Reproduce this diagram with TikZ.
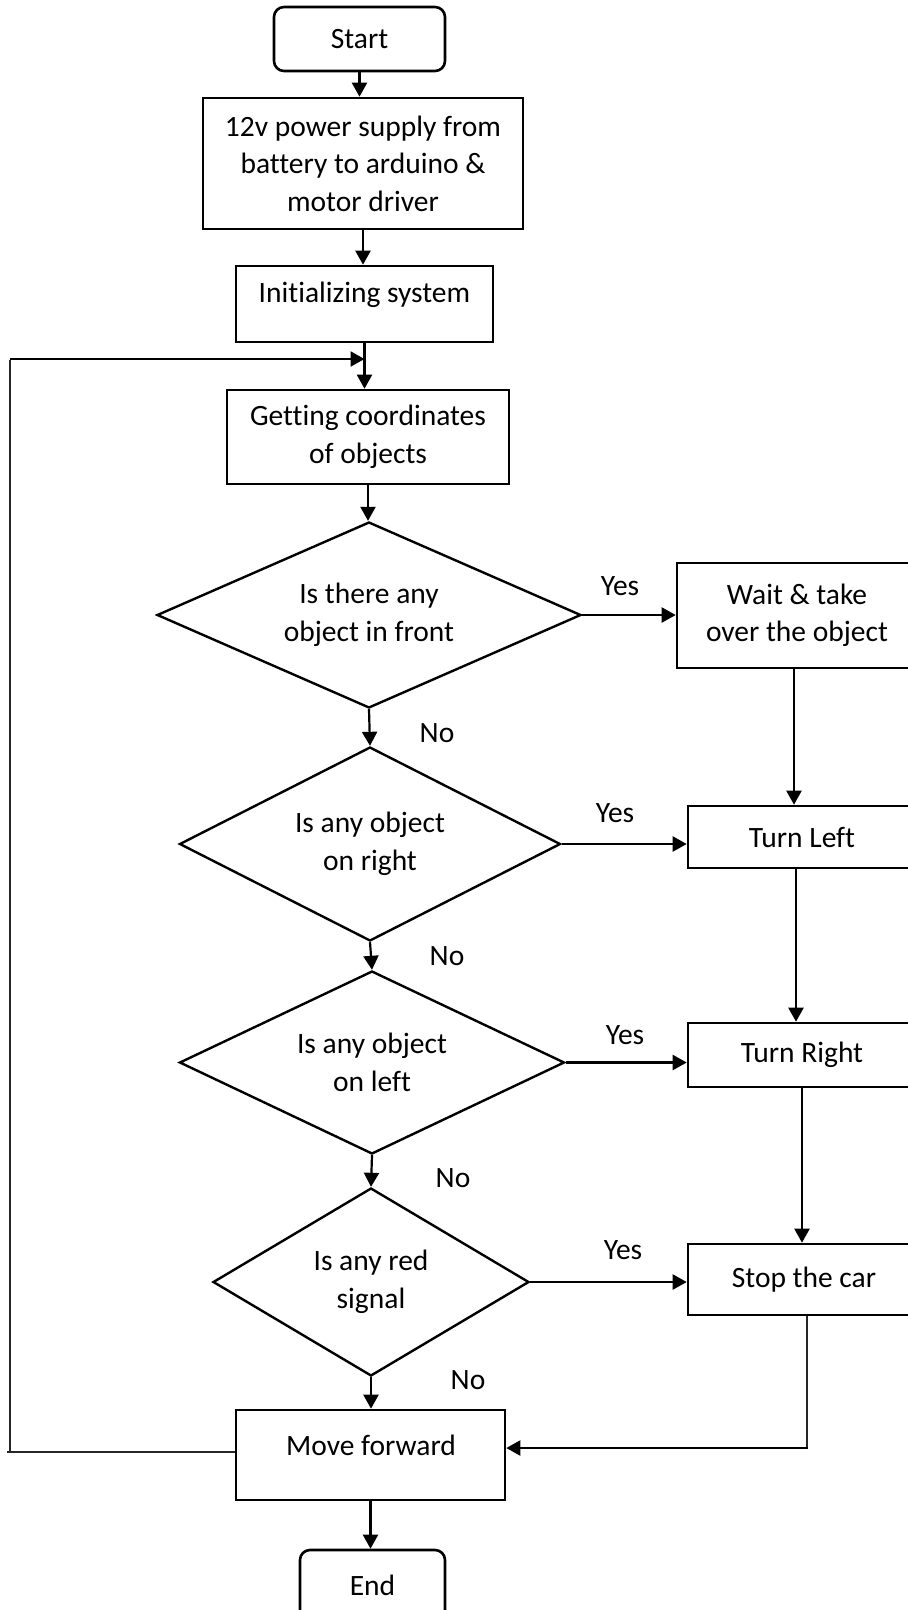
\documentclass[tikz,border=0pt]{standalone}
\usepackage{fontspec}
\setmainfont{Carlito}[Ligatures={NoCommon}]
\usetikzlibrary{shapes.geometric,arrows.meta}
\begin{document}
\begin{tikzpicture}[x=1pt,y=-1pt,
  every node/.style={font=\fontsize{29.5}{37.5}\selectfont},
  box/.style={draw,line width=2.6pt,inner sep=0pt,align=center},
  term/.style={box,rounded corners=10pt},
  dec/.style={draw,diamond,line width=2.4pt,inner sep=0pt,align=center},
  txt/.style={inner sep=0pt,align=center},
  arr/.style={line width=2.2pt,-{Triangle[length=14pt,width=15pt]}},
  thinline/.style={line width=1.1pt,black!85}
]
\clip (0,0) rectangle (908,1610);
\fill[white] (0,0) rectangle (908,1610);

% nodes
\node[term, minimum width=171pt, minimum height=64pt] (start) at (359.5,39) {Start};
\node[box, minimum width=320pt, minimum height=131pt] (power) at (363,163.5)
  {12v power supply from\\battery to arduino \&\\motor driver};
\node[box, minimum width=257pt, minimum height=76pt] (init) at (364.5,304) {};
\node[txt] (initT) at (364.5,295) {Initializing system};
\node[box, minimum width=282pt, minimum height=94pt] (get) at (368,437)
  {Getting coordinates\\of objects};
\node[dec, aspect=2.28, minimum width=424pt, minimum height=186pt] (d1) at (369,615)
  {Is there any\\object in front};
\node[box, minimum width=240pt, minimum height=105pt] (wait) at (797,615.5)
  {Wait \& take\\over the object};
\node[dec, aspect=1.96, minimum width=381pt, minimum height=194pt] (d2) at (370,844)
  {Is any object\\on right};
\node[box, minimum width=228pt, minimum height=62pt] (turnL) at (802,837) {Turn Left};
\node[dec, aspect=2.1, minimum width=385pt, minimum height=183pt] (d3) at (372,1062.5)
  {Is any object\\on left};
\node[box, minimum width=228pt, minimum height=64pt] (turnR) at (802,1055) {Turn Right};
\node[dec, aspect=1.68, minimum width=316pt, minimum height=188pt] (d4) at (371,1282)
  {Is any red\\signal};
\node[box, minimum width=232pt, minimum height=71pt] (stop) at (804,1279.5) {Stop the car};
\node[box, minimum width=269pt, minimum height=90pt] (move) at (370.5,1455) {};
\node[txt] (moveT) at (371,1445) {Move forward};
\node[term, minimum width=145pt, minimum height=70pt] (end) at (372.5,1585) {End};

% labels
\node[txt] (yes1) at (620,586) {Yes};
\node[txt] (yes2) at (615,813) {Yes};
\node[txt] (yes3) at (625,1035) {Yes};
\node[txt] (yes4) at (623,1250) {Yes};
\node[txt] (no1) at (437,733) {No};
\node[txt] (no2) at (447,956) {No};
\node[txt] (no3) at (453,1178) {No};
\node[txt] (no4) at (468,1380) {No};

% coordinates
\coordinate (loopA0) at (7,1452);
\coordinate (loopA) at (10,1452);
\coordinate (loopB) at (10,360);
\coordinate (loopB2) at (10,359);
\coordinate (loopC) at (364.5,359);
\coordinate (stopC) at (807,1448);

% connectors
\draw[arr] (start.south) -- (start.south |- power.north);
\draw[arr] (power.south) -- (power.south |- init.north);
\draw[line width=2.2pt] (init.south) -- (loopC);
\draw[arr] (loopC) -- (loopC |- get.north);
\draw[arr] (get.south) -- (get.south |- d1.north);
\draw[arr] (d1.east) -- (d1.east -| wait.west);
\draw[arr] (d1.south) -- (d2.north);
\draw[arr] ([xshift=-3pt]wait.south) -- ([xshift=-3pt]wait.south |- turnL.north);
\draw[arr] (d2.east) -- (d2.east -| turnL.west);
\draw[arr] (d2.south) -- (d3.north);
\draw[arr] ([xshift=-6pt]turnL.south) -- ([xshift=-6pt]turnL.south |- turnR.north);
\draw[arr] (d3.east) -- (d3.east -| turnR.west);
\draw[arr] (d3.south) -- (d4.north);
\draw[arr] (turnR.south) -- (turnR.south |- stop.north);
\draw[arr] (d4.east) -- (d4.east -| stop.west);
\draw[arr] (d4.south) -- (d4.south |- move.north);
\draw[thinline] ([xshift=3pt]stop.south) -- (stopC);
\draw[arr] ([xshift=1pt]stopC) -- (stopC -| move.east);
\draw[arr] (move.south) -- (move.south |- end.north);
\draw[thinline] ([yshift=3pt]move.west) -- (loopA0);
\draw[thinline] (loopA) -- (loopB);
\draw[arr] (loopB2) -- (loopC);
\end{tikzpicture}
\end{document}
